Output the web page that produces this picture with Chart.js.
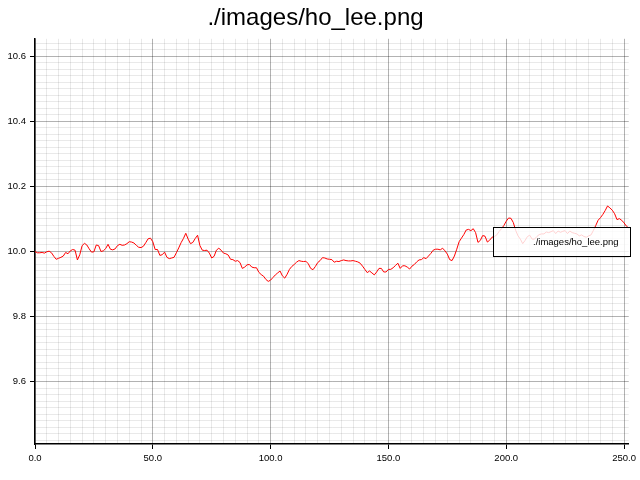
<!DOCTYPE html>
<html>
<head>
<meta charset="utf-8">
<script src="https://cdn.jsdelivr.net/npm/chart.js@4.4.1/dist/chart.umd.min.js"></script>
<style>
  body { margin: 0; background: #fff; }
  #wrap { width: 640px; height: 480px; }
</style>
</head>
<body>
<div id="wrap"><canvas id="chart" width="640" height="480"></canvas></div>
<script>
// values, one per step 0..252
const hoLee = [
  10.000, 9.996, 9.996, 9.997, 9.995, 9.999, 10.001, 9.996, 9.985, 9.976,
  9.979, 9.982, 9.986, 9.997, 9.993, 10.002, 10.006, 10.004, 9.974, 9.990,
  10.018, 10.025, 10.020, 10.008, 9.998, 9.999, 10.020, 10.018, 10.000, 10.002,
  10.009, 10.022, 10.007, 10.005, 10.008, 10.018, 10.022, 10.019, 10.020, 10.024,
  10.030, 10.029, 10.026, 10.019, 10.013, 10.012, 10.016, 10.027, 10.039, 10.041,
  10.030, 10.006, 10.006, 9.988, 9.990, 9.998, 9.982, 9.978, 9.980, 9.982,
  9.996, 10.011, 10.027, 10.040, 10.056, 10.038, 10.024, 10.028, 10.040, 10.050,
  10.018, 10.004, 10.003, 10.004, 9.995, 9.980, 9.985, 10.004, 10.010, 10.004,
  9.995, 9.993, 9.989, 9.976, 9.975, 9.970, 9.972, 9.966, 9.948, 9.952,
  9.959, 9.960, 9.952, 9.950, 9.950, 9.936, 9.929, 9.924, 9.914, 9.908,
  9.912, 9.920, 9.928, 9.934, 9.940, 9.925, 9.918, 9.930, 9.945, 9.954,
  9.960, 9.967, 9.972, 9.970, 9.969, 9.970, 9.962, 9.948, 9.944, 9.954,
  9.966, 9.972, 9.981, 9.980, 9.977, 9.976, 9.975, 9.967, 9.970, 9.969,
  9.972, 9.974, 9.972, 9.971, 9.971, 9.972, 9.970, 9.968, 9.964, 9.955,
  9.945, 9.935, 9.940, 9.934, 9.928, 9.937, 9.948, 9.948, 9.937, 9.937,
  9.945, 9.945, 9.950, 9.957, 9.964, 9.948, 9.956, 9.956, 9.952, 9.946,
  9.955, 9.960, 9.968, 9.974, 9.975, 9.981, 9.978, 9.986, 9.994, 10.004,
  10.007, 10.007, 10.005, 10.010, 10.002, 9.992, 9.975, 9.972, 9.986, 10.007,
  10.030, 10.041, 10.052, 10.066, 10.068, 10.064, 10.070, 10.058, 10.028, 10.034,
  10.049, 10.047, 10.029, 10.035, 10.044, 10.046, 10.051, 10.062, 10.070, 10.080,
  10.093, 10.103, 10.102, 10.089, 10.065, 10.048, 10.038, 10.024, 10.034, 10.046,
  10.050, 10.038, 10.038, 10.046, 10.052, 10.054, 10.054, 10.060, 10.058, 10.061,
  10.064, 10.055, 10.063, 10.059, 10.062, 10.064, 10.055, 10.063, 10.058, 10.056,
  10.054, 10.048, 10.051, 10.046, 10.044, 10.048, 10.051, 10.065, 10.080, 10.096,
  10.104, 10.114, 10.126, 10.140, 10.134, 10.127, 10.116, 10.098, 10.101, 10.096,
  10.088, 10.078, 10.072
];

const titleText = "./images/ho_lee.png";
const seriesName = "./images/ho_lee.png";

const xMin = 0, xMax = 252;
const yMin = 9.408, yMax = 10.654;
const xMajor = [0, 50, 100, 150, 200, 250];
const yMajor = [9.6, 9.8, 10.0, 10.2, 10.4, 10.6];

// grid positions: minor every 5 on x, every 0.02 on y
const xGrid = [];
for (let v = 0; v <= 250; v += 5) xGrid.push(v);
const yGrid = [];
for (let k = 471; k <= 532; k++) yGrid.push(Math.round(k * 2) / 100);

const isMajor = (list, v) => list.some((m) => Math.abs(m - v) < 1e-6);
const FONT = "'Liberation Sans', Arial, sans-serif";
const MAJOR = "rgba(0,0,0,0.3)";
const MINOR = "rgba(0,0,0,0.085)";

// legend box drawn on top of the plot, like the reference
const boxLegend = {
  id: "boxLegend",
  afterDatasetsDraw(chart) {
    const ctx = chart.ctx;
    ctx.save();
    ctx.fillStyle = "rgba(255,255,255,0.82)";
    ctx.fillRect(493.5, 227.5, 137, 29);
    ctx.strokeStyle = "#000";
    ctx.lineWidth = 1;
    ctx.strokeRect(493.5, 227.5, 137, 29);
    ctx.fillStyle = "#000";
    ctx.font = "9.5px " + FONT;
    ctx.textBaseline = "middle";
    ctx.fillText(seriesName, 533, 242);
    ctx.restore();
  },
};

new Chart(document.getElementById("chart"), {
  type: "line",
  data: {
    datasets: [
      {
        label: seriesName,
        data: hoLee.map((v, i) => ({ x: i, y: v })),
        borderColor: "#ff0000",
        borderWidth: 1,
        pointRadius: 0,
        tension: 0,
        fill: false,
      },
    ],
  },
  options: {
    responsive: false,
    animation: false,
    devicePixelRatio: 1,
    layout: { padding: { left: 0, right: 9, top: 0, bottom: 0 } },
    plugins: {
      legend: { display: false },
      tooltip: { enabled: false },
      title: {
        display: true,
        text: titleText,
        color: "#000",
        font: { family: FONT, size: 24, weight: "normal" },
        padding: { top: 4, bottom: 6 },
      },
    },
    scales: {
      x: {
        type: "linear",
        min: xMin,
        max: xMax,
        afterBuildTicks: (s) => { s.ticks = xGrid.map((v) => ({ value: v })); },
        afterFit: (s) => { s.height = 36; },
        border: { color: "#000", width: 1.5 },
        grid: {
          color: (c) => (isMajor(xMajor, c.tick.value) ? MAJOR : MINOR),
          tickColor: (c) => (isMajor(xMajor, c.tick.value) ? "#000" : "rgba(0,0,0,0)"),
          tickLength: 5,
          lineWidth: 1,
        },
        ticks: {
          autoSkip: false,
          maxRotation: 0,
          padding: 4,
          color: "#000",
          font: { family: FONT, size: 9.5 },
          callback: (v) => (isMajor(xMajor, v) ? Number(v).toFixed(1) : ""),
        },
      },
      y: {
        type: "linear",
        min: yMin,
        max: yMax,
        afterBuildTicks: (s) => { s.ticks = yGrid.map((v) => ({ value: v })); },
        afterFit: (s) => { s.width = 35; },
        border: { color: "#000", width: 1.5 },
        grid: {
          color: (c) => (isMajor(yMajor, c.tick.value) ? MAJOR : MINOR),
          tickColor: (c) => (isMajor(yMajor, c.tick.value) ? "#000" : "rgba(0,0,0,0)"),
          tickLength: 5,
          lineWidth: 1,
        },
        ticks: {
          autoSkip: false,
          padding: 4,
          color: "#000",
          font: { family: FONT, size: 9.5 },
          callback: (v) => (isMajor(yMajor, v) ? Number(v).toFixed(1) : ""),
        },
      },
    },
  },
  plugins: [boxLegend],
});
</script>
</body>
</html>
